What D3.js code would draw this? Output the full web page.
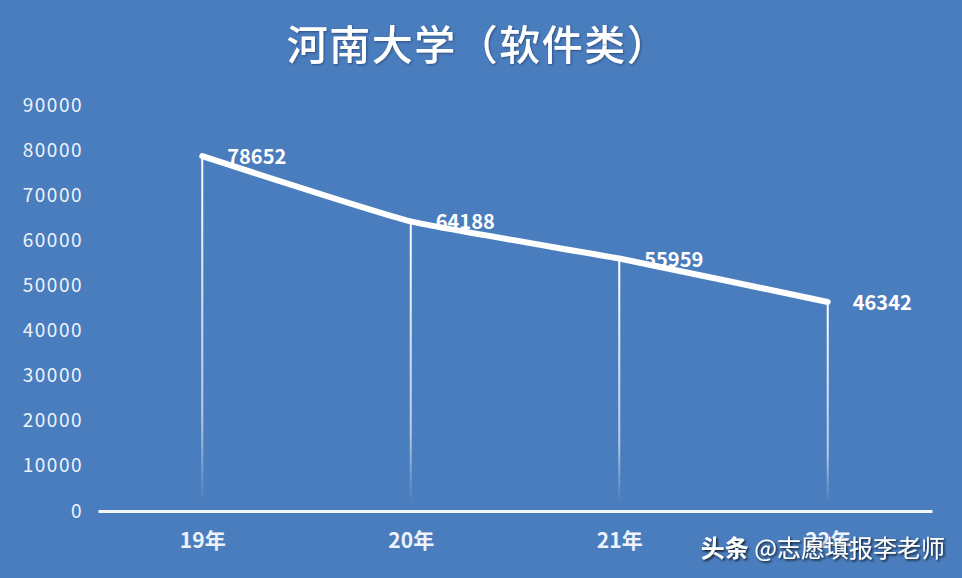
<!DOCTYPE html>
<html>
<head>
<meta charset="utf-8">
<script src="https://cdn.jsdelivr.net/npm/d3@7"></script>
<style>
  body { margin: 0; background: #4a7dbd; }
  svg { display: block; }
</style>
</head>
<body>
<script>
const years = ['19年', '20年', '21年', '22年']
const values = [78652, 64188, 55959, 46342]
const yTicks = [0, 10000, 20000, 30000, 40000, 50000, 60000, 70000, 80000, 90000]

const width = 962, height = 578
const font = '"Noto Sans CJK SC", "Noto Sans", sans-serif'

const svg = d3.select('body').append('svg')
    .attr('width', width)
    .attr('height', height)

svg.append('rect')
    .attr('width', width)
    .attr('height', height)
    .attr('fill', '#4a7dbd')

const defs = svg.append('defs')

// drop lines fade out toward the axis
const grad = defs.append('linearGradient')
    .attr('id', 'dropFade')
    .attr('x1', 0).attr('y1', 0).attr('x2', 0).attr('y2', 1)
grad.append('stop').attr('offset', '0%').attr('stop-color', '#fff').attr('stop-opacity', 1)
grad.append('stop').attr('offset', '75%').attr('stop-color', '#fff').attr('stop-opacity', 0.6)
grad.append('stop').attr('offset', '100%').attr('stop-color', '#fff').attr('stop-opacity', 0)

const shadow = defs.append('filter').attr('id', 'shadow')
shadow.append('feDropShadow')
    .attr('dx', 1).attr('dy', 1).attr('stdDeviation', 1)
    .attr('flood-color', '#1a2f55').attr('flood-opacity', 0.6)

const darkShadow = defs.append('filter').attr('id', 'darkShadow')
darkShadow.append('feDropShadow')
    .attr('dx', 1.5).attr('dy', 1.5).attr('stdDeviation', 1)
    .attr('flood-color', '#000').attr('flood-opacity', 0.8)

const x = d3.scalePoint()
    .domain(years)
    .range([98, 932])
    .padding(0.5)

const y = d3.scaleLinear()
    .domain([0, 90000])
    .range([511, 105])

// title
svg.append('text')
    .attr('x', 478)
    .attr('y', 60)
    .attr('text-anchor', 'middle')
    .attr('font-family', font)
    .attr('font-weight', 500)
    .attr('font-size', 41)
    .attr('letter-spacing', 1.5)
    .attr('fill', '#fff')
    .attr('filter', 'url(#shadow)')
    .text('河南大学（软件类）')

// y axis labels
const yAxis = svg.append('g')
    .attr('transform', 'translate(83,0)')
    .call(d3.axisLeft(y).tickValues(yTicks).tickFormat(d3.format('d')).tickSize(0).tickPadding(0))
yAxis.select('.domain').remove()
yAxis.selectAll('text')
    .attr('font-family', font)
    .attr('font-size', 19)
    .attr('letter-spacing', 1.5)
    .attr('fill', '#eef3fb')

// x axis
const xAxis = svg.append('g')
    .attr('transform', 'translate(0,' + y(0) + ')')
    .call(d3.axisBottom(x).tickSize(0).tickPadding(22))
xAxis.select('.domain')
    .attr('stroke', '#f4f7fc')
    .attr('stroke-width', 3)
xAxis.selectAll('text')
    .attr('font-family', font)
    .attr('font-weight', 'bold')
    .attr('font-size', 21)
    .attr('fill', '#eef3fb')

// drop lines
svg.selectAll('.drop')
    .data(values)
    .enter()
    .append('rect')
    .attr('class', 'drop')
    .attr('x', (d, i) => x(years[i]) - 1)
    .attr('y', d => y(d))
    .attr('width', 2)
    .attr('height', d => y(0) - y(d) - 8)
    .attr('fill', 'url(#dropFade)')

// the line
const line = d3.line()
    .x((d, i) => x(years[i]))
    .y(d => y(d))
    .curve(d3.curveCardinal.tension(0.6))

svg.append('path')
    .datum(values)
    .attr('d', line)
    .attr('fill', 'none')
    .attr('stroke', '#fff')
    .attr('stroke-width', 6)
    .attr('stroke-linecap', 'round')

// data labels
svg.selectAll('.lbl')
    .data(values)
    .enter()
    .append('text')
    .attr('class', 'lbl')
    .attr('x', (d, i) => x(years[i]) + 25)
    .attr('y', d => y(d) + 8)
    .attr('font-family', font)
    .attr('font-weight', 'bold')
    .attr('font-size', 20)
    .attr('fill', '#fff')
    .text(d => d)

// watermark
const wm = svg.append('text')
    .attr('x', 945)
    .attr('y', 557)
    .attr('text-anchor', 'end')
    .attr('font-family', font)
    .attr('font-size', 24)
    .attr('fill', '#fff')
    .attr('filter', 'url(#darkShadow)')
wm.append('tspan').attr('font-weight', 'bold').text('头条 ')
wm.append('tspan').text('@志愿填报李老师')
</script>
</body>
</html>
